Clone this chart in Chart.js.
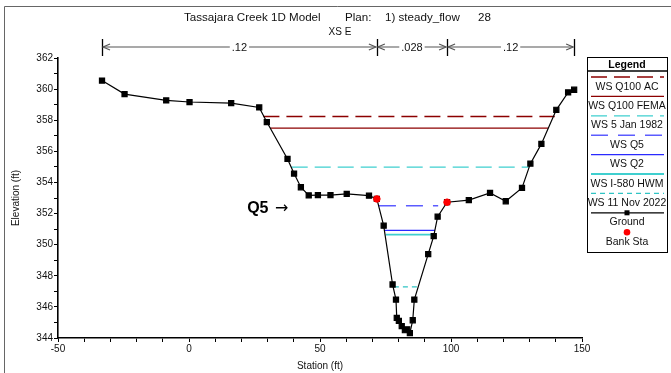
<!DOCTYPE html>
<html>
<head>
<meta charset="utf-8">
<script src="https://cdn.jsdelivr.net/npm/chart.js@4.4.1/dist/chart.umd.min.js"></script>
<style>
  html, body { margin: 0; padding: 0; background: #fff; }
  #wrap { width: 671px; height: 373px; position: relative; }
</style>
</head>
<body>
<div id="wrap"><canvas id="xs" width="671" height="373"></canvas></div>
<script>
// ground profile for XS E (station ft, elevation ft)
const groundStation = [-33.2, -24.6, -8.7, 0.2, 16.1, 26.8, 29.7, 37.6, 40.1, 42.7, 45.7, 49.2, 54.0, 60.2, 68.7,
    71.7, 74.3, 77.7, 79.0, 79.3, 80.1, 81.2, 82.4, 83.3, 84.3, 85.4, 86.0, 91.3, 93.4, 94.9, 98.5,
    106.8, 114.9, 120.9, 127.1, 130.3, 134.5, 140.2, 144.7, 147.0];
const groundElev = [360.55, 359.68, 359.27, 359.17, 359.1, 358.82, 357.88, 355.51, 354.57, 353.69, 353.17, 353.19, 353.19, 353.26, 353.15,
    352.94, 351.22, 347.44, 346.47, 345.29, 345.1, 344.77, 344.5, 344.56, 344.32, 345.14, 346.47, 349.39, 350.55, 351.8, 352.73,
    352.86, 353.33, 352.79, 353.65, 355.21, 356.48, 358.67, 359.79, 359.96];
const bankStation = [71.7, 98.5];
const bankElev = [352.94, 352.73];

// water surfaces
const wsNames = ['WS Q100 AC', 'WS Q100 FEMA', 'WS 5 Jan 1982', 'WS Q5', 'WS Q2', 'WS I-580 HWM', 'WS 11 Nov 2022'];
const wsElev = [358.24, 357.49, 354.98, 352.5, 350.92, 350.64, 347.29];
const wsLeft = [28.4, 31.0, 39.2, 72.5, 74.5, 75.1, 78.2];
const wsRight = [139.6, 137.0, 129.7, 95.1, 93.9, 93.5, 87.5];

// manning n breaks
const nBreaks = [-33.2, 71.7, 98.5, 147.0];
const nValues = ['.12', '.028', '.12'];

const xLabels = [-50, 0, 50, 100, 150];
const yLabels = [344, 346, 348, 350, 352, 354, 356, 358, 360, 362];

const wsColor = ['#8c0000', '#8c0000', '#3fcfcf', '#5c5cff', '#2a2aff', '#3fcfcf', '#2fc4c4'];
const wsDash = [[16, 7], [], [16, 7], [17, 10], [], [], [5, 4]];
const wsWidth = [1.3, 1.3, 1.3, 1.5, 1.3, 1.8, 1.3];

const FONT = 'Arial, "Liberation Sans", sans-serif';

let datasets = [];
datasets.push({
    label: 'Bank Sta',
    data: bankStation.map((s, i) => ({ x: s, y: bankElev[i] })),
    showLine: false,
    pointStyle: 'circle',
    pointRadius: 3.3,
    backgroundColor: '#ff0000',
    borderColor: '#ff0000',
    kind: 'dot'
});
datasets.push({
    label: 'Ground',
    data: groundStation.map((s, i) => ({ x: s, y: groundElev[i] })),
    showLine: true,
    borderColor: '#000',
    borderWidth: 1.2,
    pointStyle: 'rect',
    pointRadius: 3.6,
    backgroundColor: '#000',
    kind: 'ground'
});
wsNames.forEach((name, i) => {
    datasets.push({
        label: name,
        data: [{ x: wsLeft[i], y: wsElev[i] }, { x: wsRight[i], y: wsElev[i] }],
        showLine: true,
        borderColor: wsColor[i],
        borderDash: wsDash[i],
        borderWidth: wsWidth[i],
        pointRadius: 0,
        kind: 'ws'
    });
});

function arrowHead(ctx, x, y, dir) {
    ctx.beginPath();
    ctx.moveTo(x + dir * 7, y - 3);
    ctx.lineTo(x, y);
    ctx.lineTo(x + dir * 7, y + 3);
    ctx.stroke();
}

const extras = {
    id: 'extras',
    afterDraw(chart) {
        const ctx = chart.ctx;
        const xs = chart.scales.x;
        const ys = chart.scales.y;
        const area = chart.chartArea;
        ctx.save();

        // outer frame
        ctx.strokeStyle = '#666';
        ctx.lineWidth = 1;
        ctx.beginPath();
        ctx.moveTo(4.5, 373);
        ctx.lineTo(4.5, 6.5);
        ctx.lineTo(671, 6.5);
        ctx.stroke();

        // title
        ctx.fillStyle = '#111';
        ctx.font = '11.6px ' + FONT;
        ctx.textBaseline = 'middle';
        ctx.textAlign = 'left';
        ctx.fillText('Tassajara Creek 1D Model', 184, 18);
        ctx.fillText('Plan:', 345, 18);
        ctx.fillText('1) steady_flow', 385, 18);
        ctx.fillText('28', 478, 18);
        ctx.font = '10px ' + FONT;
        ctx.textAlign = 'center';
        ctx.fillText('XS E', 340, 32);

        // manning n bar
        const ny = 47;
        ctx.strokeStyle = '#000';
        ctx.lineWidth = 1.3;
        nBreaks.forEach(s => {
            const px = Math.round(xs.getPixelForValue(s)) + 0.5;
            ctx.beginPath();
            ctx.moveTo(px, 39);
            ctx.lineTo(px, 56);
            ctx.stroke();
        });
        ctx.font = '11px ' + FONT;
        for (let i = 0; i < nValues.length; i++) {
            const a = xs.getPixelForValue(nBreaks[i]);
            const b = xs.getPixelForValue(nBreaks[i + 1]);
            ctx.strokeStyle = '#555';
            ctx.lineWidth = 1.2;
            ctx.beginPath();
            ctx.moveTo(a + 1, ny);
            ctx.lineTo(b - 1, ny);
            ctx.stroke();
            arrowHead(ctx, a + 1, ny, 1);
            arrowHead(ctx, b - 1, ny, -1);
            const mid = (a + b) / 2;
            const w = ctx.measureText(nValues[i]).width;
            ctx.fillStyle = '#fff';
            ctx.fillRect(mid - w / 2 - 2, ny - 6, w + 4, 12);
            ctx.fillStyle = '#111';
            ctx.textAlign = 'center';
            ctx.fillText(nValues[i], mid, ny + 1);
        }

        // axis titles
        ctx.fillStyle = '#111';
        ctx.font = '10px ' + FONT;
        ctx.textAlign = 'center';
        ctx.fillText('Station (ft)', (area.left + area.right) / 2, 366);
        ctx.save();
        ctx.translate(16, (area.top + area.bottom) / 2);
        ctx.rotate(-Math.PI / 2);
        ctx.fillText('Elevation (ft)', 0, 0);
        ctx.restore();

        // Q5 callout
        const qy = ys.getPixelForValue(wsElev[3]) + 3;
        const qx = xs.getPixelForValue(22.2);
        ctx.font = 'bold 16px ' + FONT;
        ctx.textAlign = 'left';
        ctx.fillStyle = '#000';
        ctx.fillText('Q5', qx, qy);
        const qw = ctx.measureText('Q5 ').width;
        ctx.font = '16px "DejaVu Sans", ' + FONT;
        ctx.fillText('\u2192', qx + qw + 2, qy);

        // legend box
        const L = 587, R = 667, T = 57, B = 252;
        const cx = (L + R) / 2;
        ctx.fillStyle = '#fff';
        ctx.fillRect(L, T, R - L, B - T);
        ctx.strokeStyle = '#000';
        ctx.lineWidth = 1;
        ctx.strokeRect(L + 0.5, T + 0.5, R - L, B - T);
        ctx.fillStyle = '#000';
        ctx.textAlign = 'center';
        ctx.font = 'bold 10.5px ' + FONT;
        ctx.fillText('Legend', cx, 65);
        ctx.beginPath();
        ctx.lineWidth = 1.3;
        ctx.moveTo(L, 71);
        ctx.lineTo(R, 71);
        ctx.stroke();

        const order = chart.data.datasets.filter(d => d.kind === 'ws')
            .concat(chart.data.datasets.filter(d => d.kind === 'ground'))
            .concat(chart.data.datasets.filter(d => d.kind === 'dot'));
        ctx.font = '10.5px ' + FONT;
        order.forEach((d, i) => {
            const sy = 77 + i * 19.4;
            if (d.kind === 'dot') {
                ctx.fillStyle = d.backgroundColor;
                ctx.beginPath();
                ctx.arc(cx, sy, 3.3, 0, Math.PI * 2);
                ctx.fill();
            } else {
                ctx.strokeStyle = d.borderColor;
                ctx.lineWidth = d.borderWidth;
                ctx.setLineDash(d.borderDash || []);
                ctx.beginPath();
                ctx.moveTo(L + 4, sy);
                ctx.lineTo(R - 3, sy);
                ctx.stroke();
                ctx.setLineDash([]);
                if (d.kind === 'ground') {
                    ctx.fillStyle = '#000';
                    ctx.fillRect(cx - 2.5, sy - 2.5, 5, 5);
                }
            }
            ctx.fillStyle = '#111';
            ctx.textAlign = 'center';
            ctx.fillText(d.label, cx, sy + 9.8);
        });

        ctx.restore();
    }
};

new Chart(document.getElementById('xs'), {
    type: 'scatter',
    data: { datasets: datasets },
    options: {
        responsive: false,
        animation: false,
        layout: { padding: { left: 0, top: 58, right: 89, bottom: 0 } },
        plugins: { legend: { display: false }, tooltip: { enabled: false } },
        scales: {
            x: {
                type: 'linear',
                min: -50,
                max: 150,
                afterFit(scale) { scale.height = 35; },
                afterBuildTicks(scale) {
                    let t = [];
                    for (let v = -50; v <= 150; v += 10) t.push({ value: v });
                    scale.ticks = t;
                },
                ticks: {
                    autoSkip: false,
                    maxRotation: 0,
                    padding: 1,
                    color: '#111',
                    font: { family: FONT, size: 10 },
                    callback: v => xLabels.includes(v) ? String(v) : ''
                },
                grid: { drawOnChartArea: false, drawTicks: true, tickLength: 4, color: '#000', lineWidth: 1 },
                border: { color: '#000', width: 1.6 }
            },
            y: {
                type: 'linear',
                min: 344,
                max: 362,
                afterFit(scale) { scale.width = 58; },
                afterBuildTicks(scale) {
                    let t = [];
                    for (let v = 344; v <= 362; v += 1) t.push({ value: v });
                    scale.ticks = t;
                },
                ticks: {
                    autoSkip: false,
                    padding: 1,
                    color: '#111',
                    font: { family: FONT, size: 10 },
                    callback: v => yLabels.includes(v) ? String(v) : ''
                },
                grid: { drawOnChartArea: false, drawTicks: true, tickLength: 4, color: '#000', lineWidth: 1 },
                border: { color: '#000', width: 1.6 }
            }
        }
    },
    plugins: [extras]
});
</script>
</body>
</html>
